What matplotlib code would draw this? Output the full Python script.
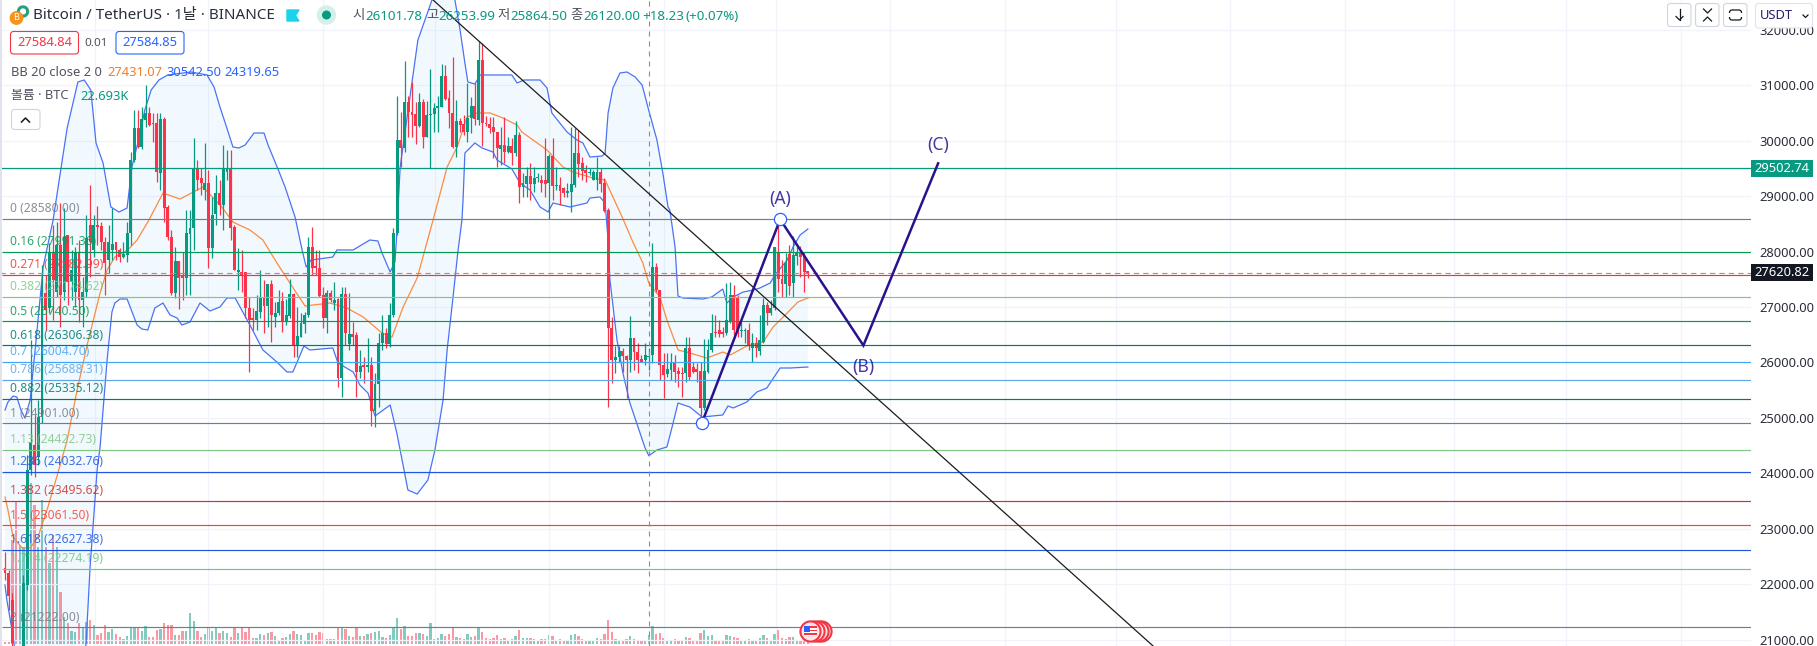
"""
plot.py - BTC/USDT daily chart with Bollinger bands, fib levels and an ABC wave sketch.
"""

import numpy as np
import matplotlib
matplotlib.use("Agg")
import matplotlib.pyplot as plt
from matplotlib.patches import Circle, FancyBboxPatch, Polygon, Rectangle
from matplotlib.ticker import FormatStrFormatter

plt.rcParams["font.family"] = ["Noto Sans", "Noto Sans CJK KR", "DejaVu Sans"]

# ──────────────────────────────────────────────
# Data
# ──────────────────────────────────────────────

opens = [
    22294, 22204, 21717, 20760, 20600, 20635, 21987, 24061, 24512, 24295,
    25017, 27252, 26982, 27973, 27270, 28118, 27270, 28298, 27450, 27270,
    27973, 27126, 27270, 28478, 28028, 28478, 28460, 28172, 27847, 28028,
    28172, 28028, 27901, 27937, 28334, 29650, 30227, 29885, 30371, 30498,
    30317, 30317, 29416, 30389, 28803, 28262, 27252, 27829, 27577, 27523,
    28316, 28424, 29506, 29326, 29109, 29236, 28064, 28677, 29055, 28839,
    29434, 29506, 28442, 27631, 27631, 27631, 26982, 26801, 26765, 26910,
    27162, 27018, 27415, 26819, 26892, 27108, 26729, 26837, 27234, 26297,
    26459, 26693, 26855, 28082, 27739, 27703, 27216, 26801, 27252, 27072,
    27144, 25720, 27234, 26333, 26513, 26495, 25828, 25954, 25918, 25954,
    25125, 25612, 26351, 26531, 26333, 26855, 28334, 30011, 29866, 30696,
    30515, 30479, 30263, 30696, 30065, 30461, 30479, 30588, 30606, 31165,
    30768, 30498, 29885, 30353, 30299, 30155, 30407, 30624, 30371, 31453,
    30317, 30299, 30245, 30155, 29849, 29921, 29794, 29903, 29776, 30101,
    29163, 29217, 29362, 29217, 29326, 29290, 29290, 29236, 29722, 29181,
    29199, 29145, 29055, 29073, 29199, 29776, 29596, 29470, 29416, 29290,
    29290, 29434, 29235, 28749, 26621, 26044, 26098, 26206, 26116, 26044,
    26441, 26188, 26062, 26044, 26101.78, 26134, 27721, 27306, 25954, 25792,
    25864, 25990, 25846, 25810, 25810, 26261, 25918, 25882, 25846, 25179,
    25828, 26224, 26549, 26585, 26549, 26531, 26729, 27216, 27180, 26567,
    26567, 26585, 26261, 26351, 26207, 26369, 27036, 26891, 26982, 27991,
    27505, 27415, 27955, 27432, 27919, 27973, 27919, 27649,
]
highs = [
    22583, 22258, 21843, 20840, 20800, 22168, 24331, 26405, 25053, 25323,
    27757, 27577, 28154, 28478, 28533, 28875, 28785, 28298, 28028, 28082,
    28208, 27541, 28659, 29199, 28659, 28821, 28533, 28262, 28478, 28785,
    28172, 28064, 28172, 28532, 29794, 30552, 30552, 30606, 31002, 30606,
    30498, 30498, 30498, 30425, 28839, 28388, 28082, 27829, 27991, 28749,
    28749, 30047, 29650, 29506, 29957, 29470, 28983, 29380, 29290, 29921,
    29830, 29830, 28478, 28064, 28028, 27631, 27180, 26982, 27216, 27667,
    27487, 27415, 27487, 27090, 27306, 27270, 27144, 27505, 27252, 27000,
    26892, 26910, 28262, 28442, 28028, 28028, 27360, 27306, 27306, 27450,
    27162, 27360, 27360, 27252, 26729, 26549, 26224, 26098, 26441, 26098,
    25810, 26531, 26855, 26621, 27072, 28424, 30804, 30516, 31435, 30804,
    31057, 30696, 30858, 30750, 30714, 31291, 30678, 30804, 31381, 31363,
    30912, 31507, 30732, 30407, 30461, 31039, 30786, 31039, 31796, 31760,
    30443, 30425, 30425, 30155, 30245, 30425, 30065, 30047, 30353, 30155,
    29416, 29524, 29596, 29524, 29416, 29380, 30047, 29758, 30047, 29524,
    29344, 29163, 29235, 30245, 30227, 30191, 29704, 29560, 29506, 29470,
    29704, 29506, 29326, 28785, 26820, 26297, 26297, 26261, 26134, 26837,
    26441, 26351, 26134, 26351, 26253.99, 28154, 27793, 27306, 26171, 26171,
    26171, 26134, 25918, 25918, 26459, 26459, 26008, 25990, 26008, 26423,
    26423, 26874, 26856, 26765, 26639, 27432, 27450, 27396, 27216, 26729,
    26621, 26711, 26531, 26459, 26856, 27162, 27090, 27126, 28082, 28478,
    27847, 27973, 28118, 28280, 28082, 28100, 27991, 27649,
]
lows = [
    22078, 21537, 20816, 20500, 20500, 20545, 21897, 23971, 23935, 24151,
    24908, 26585, 26892, 26765, 27180, 26639, 27126, 27036, 27126, 26999,
    26730, 26639, 27180, 27541, 27901, 28118, 28028, 27216, 27613, 27847,
    27847, 27811, 27883, 27811, 28118, 29614, 29866, 29849, 30245, 30263,
    29975, 29253, 29109, 28532, 28208, 27216, 27162, 26964, 27126, 27216,
    27216, 28028, 29109, 29019, 28929, 27703, 27883, 28478, 28659, 28388,
    29290, 28208, 27667, 27306, 27270, 26801, 25828, 26585, 26585, 26801,
    26531, 26639, 26369, 26639, 26856, 26549, 26675, 26801, 26098, 26098,
    26459, 26531, 26819, 27577, 27577, 27180, 26621, 26531, 27090, 26946,
    25557, 25377, 26315, 26224, 26315, 25377, 25720, 25630, 25828, 24854,
    24836, 25197, 26224, 26261, 26279, 26819, 28298, 29524, 29794, 30065,
    30065, 29939, 30245, 29866, 30065, 29506, 30155, 30155, 30606, 30732,
    30227, 29866, 29704, 30155, 30101, 29975, 30137, 30281, 30281, 29902,
    30263, 30137, 29686, 29524, 29560, 29596, 29776, 29560, 29722, 28875,
    28983, 28983, 28929, 29073, 29253, 29073, 28983, 28586, 28929, 29109,
    28839, 28983, 28983, 28713, 29163, 29344, 29289, 29253, 29380, 29290,
    29109, 29073, 28713, 25197, 25630, 25810, 26008, 25828, 25359, 25828,
    25864, 25810, 26008, 25954, 25864.50, 25990, 27270, 25684, 25359, 25738,
    25684, 25648, 25557, 25377, 25648, 25684, 25810, 25648, 25017, 25143,
    25810, 26188, 26459, 26459, 26459, 26495, 26711, 26495, 26459, 26459,
    26351, 26224, 26008, 26098, 26135, 26351, 26675, 26856, 26946, 27270,
    27180, 27180, 27216, 27180, 27757, 27541, 27270, 27523,
]
closes = [
    22204, 21789, 20942, 20600, 20700, 22023, 24061, 24566, 24151, 25017,
    27396, 26946, 27991, 27487, 28118, 27216, 28262, 27450, 27667, 27973,
    27126, 27270, 28244, 28172, 28478, 28442, 28172, 27793, 28172, 28136,
    28028, 27901, 27955, 28334, 29650, 30227, 29885, 30389, 30498, 30281,
    30299, 29434, 30389, 28785, 28262, 27252, 27829, 27523, 27523, 28334,
    28424, 29506, 29290, 29236, 29236, 28064, 28659, 29055, 28839, 29506,
    29506, 28424, 27667, 27667, 27559, 26982, 26765, 26765, 26928, 27162,
    27018, 27415, 26856, 26892, 27090, 26729, 26856, 27234, 26315, 26477,
    26711, 26855, 28082, 27703, 27703, 27198, 26801, 27252, 27126, 27126,
    25720, 27234, 26531, 26513, 26459, 25828, 25936, 25918, 25954, 25125,
    25612, 26351, 26531, 26333, 26855, 28334, 30011, 29866, 30696, 30515,
    30461, 30263, 30696, 30065, 30461, 30479, 30588, 30624, 31165, 30750,
    30498, 29885, 30353, 30281, 30155, 30407, 30624, 30389, 31453, 30317,
    30299, 30227, 30155, 29866, 29921, 29794, 29903, 29776, 30101, 29163,
    29236, 29362, 29217, 29326, 29344, 29236, 29217, 29722, 29181, 29199,
    29091, 29055, 29091, 29217, 29776, 29578, 29452, 29416, 29434, 29434,
    29434, 29217, 28731, 26621, 26044, 26098, 26206, 26116, 26044, 26441,
    26188, 26044, 26008, 26134, 26120.00, 27721, 27306, 25954, 25774, 25882,
    25990, 25828, 25792, 25792, 26261, 25738, 25828, 25828, 25179, 25846,
    26224, 26531, 26531, 26513, 26513, 26765, 27216, 26585, 26585, 26585,
    26585, 26297, 26351, 26261, 26405, 27036, 26891, 26982, 28082, 27505,
    27415, 27793, 27378, 27937, 27973, 27901, 27631, 27620.82,
]
# thousands of BTC per bar
volumes = [
    4, 4, 260, 356, 247, 243, 243, 402, 347, 243,
    360, 243, 202, 272, 243, 131, 68, 53, 33, 31,
    53, 43, 56, 60, 47, 22, 27, 47, 31, 37,
    25, 18, 12, 20, 41, 41, 39, 33, 45, 18,
    18, 35, 37, 53, 47, 47, 23, 23, 33, 33,
    77, 57, 33, 18, 25, 42, 33, 42, 28, 33,
    28, 18, 42, 28, 42, 31, 42, 15, 15, 25,
    22, 28, 31, 21, 10, 15, 18, 25, 32, 25,
    22, 10, 28, 28, 22, 31, 28, 12, 13, 12,
    43, 43, 37, 20, 18, 42, 20, 20, 25, 28,
    31, 33, 18, 15, 23, 39, 65, 37, 45, 20,
    20, 28, 27, 25, 20, 52, 12, 15, 25, 20,
    25, 42, 18, 15, 12, 25, 18, 20, 39, 30,
    15, 12, 16, 22, 12, 15, 10, 13, 20, 36,
    15, 14, 14, 12, 8, 12, 13, 22, 20, 10,
    12, 10, 8, 22, 25, 20, 13, 10, 8, 9,
    14, 12, 25, 60, 30, 12, 10, 9, 12, 20,
    13, 11, 8, 9, 22.693, 45, 25, 28, 15, 10,
    10, 12, 9, 10, 17, 16, 10, 10, 28, 35,
    20, 22, 10, 8, 7, 22, 20, 18, 14, 8,
    8, 12, 10, 9, 15, 22, 14, 8, 25, 35,
    14, 13, 18, 18, 8, 9, 12, 15,
]

# Bollinger lines, read at the bars where they bend
upper_idx = [
    0, 0.8, 2.2, 3.2, 4.3, 5.4, 6.8, 8.4, 10.3, 13, 16.8, 19.7, 21.4, 23.2, 24.6, 26.5,
    28.6, 30.8, 33, 34.3, 35.9, 37.8, 39.5, 41.6, 44, 50.3, 54.6, 56.5, 58.1, 59.7, 61.6,
    63.2, 64.9, 67.3, 70, 71.1, 74.1, 75.7, 78.4, 80.3, 81.4, 82.7, 88.6, 89.7, 94.1,
    98.6, 100.8, 101.9, 104.1, 105.4, 105.9, 106.8, 111.6, 115.4, 118.4, 121.6, 123,
    124.3, 125.1, 127, 128.4, 133, 137, 138.4, 140.3, 144.6, 146.5, 147.8, 151.9, 154.6,
    156.2, 158.1, 161.4, 162.2, 163, 164.3, 166.2, 168.1, 170.3, 172.2, 174, 176.2,
    177.8, 179.2, 179.7, 181.1, 181.9, 183.2, 188.6, 191, 194, 195.1, 196.8, 199.5,
    202.2, 204, 206.8, 208.1, 211.4, 213, 214.9, 217,
]
upper_val = [
    25143, 25287, 25395, 25377, 25143, 24998, 25323, 26405, 27721, 28568, 30227, 31057,
    31093, 30912, 29957, 29596, 28803, 28713, 28785, 29524, 29957, 30552, 30912, 31093,
    31183, 31237, 31183, 30966, 30606, 30281, 29885, 29867, 29921, 30137, 30137, 29921,
    29434, 29163, 28622, 28028, 27721, 27847, 27901, 28028, 28028, 28208, 28190, 27973,
    27631, 27811, 28334, 29524, 31814, 32535, 32986, 32535, 31994, 31399, 31057, 31021,
    31183, 31183, 31183, 31039, 31093, 31093, 30948, 30498, 30155, 30011, 29957, 29704,
    29722, 29776, 30498, 30948, 31219, 31237, 31147, 31002, 30542.50, 30011, 29416,
    28803, 28749, 28082, 27198, 27162, 27144, 27180, 27324, 27072, 27180, 27270, 27306,
    27342, 27432, 27577, 27847, 28082, 28298, 28406,
]
basis_idx = [
    0, 0.8, 2.2, 4.6, 6.8, 8.9, 11.6, 14.3, 16.8, 19.5, 22.2, 25.7, 27.6, 29.7, 33.2,
    35.7, 38.9, 42.7, 47.3, 53.5, 58.6, 61.6, 66.2, 69.7, 73.5, 77, 81.1, 87.8, 92.4,
    96.8, 101.9, 104.6, 107.6, 111.4, 115.7, 119.5, 122.2, 124.9, 127.6, 131.1, 134.6,
    138.4, 139.7, 142.7, 146.5, 150.8, 153.5, 158.9, 162.2, 166.8, 169.7, 172.4, 174,
    177, 178.9, 181.9, 185.1, 189.7, 194, 196, 200.5, 204.9, 207.6, 211.4, 214.3, 217,
]
basis_val = [
    23574, 23340, 22853, 22655, 22655, 22853, 23394, 24007, 24602, 25503, 26315, 27252,
    27667, 27901, 28028, 28208, 28568, 29055, 28947, 29163, 28803, 28532, 28388, 28208,
    27793, 27432, 27018, 27072, 26982, 26820, 26531, 26459, 26999, 27523, 28568, 29524,
    29885, 30425, 30498, 30498, 30407, 30281, 30155, 30011, 29830, 29524, 29434, 29326,
    29289, 28622, 28172, 27793, 27431.07, 27180, 26765, 26225, 26171, 26080, 26188,
    26134, 26297, 26369, 26639, 26892, 27090, 27162,
]
lower_idx = [
    0, 0.5, 1.9, 2.7, 6.8, 14.9, 21.4, 21.9, 23, 24.9, 25.7, 27.6, 28.9, 29.7, 31.1, 33,
    35.7, 37, 38.6, 40.5, 42.7, 44.6, 46.5, 47.8, 50, 52.7, 55.4, 58.1, 60, 62.2, 66.2,
    69.7, 73.5, 76.2, 77.8, 80.8, 82.4, 88.6, 90, 94.1, 95.9, 98.1, 100, 104.1, 105.9,
    108.9, 111.4, 114.3, 116.2, 118.4, 119.5, 121.1, 122.4, 123.5, 123.8, 124.3, 125.1,
    127, 128.9, 131.9, 133, 137, 139.2, 141.9, 144.6, 146.8, 148.1, 152.7, 157.3, 158.1,
    160.8, 162.2, 163, 163.5, 165.4, 167, 168.9, 173, 174, 176.2, 178.9, 180.3, 181.9,
    185.1, 188.4, 194, 195.4, 196.8, 200.5, 203.2, 205.9, 209.5, 212.2, 217,
]
lower_val = [
    21987, 21717, 21176, 20816, 19553, 19193, 20635, 20924, 22312, 24061, 24476, 26044,
    26910, 27072, 27144, 27144, 26675, 26603, 26585, 26982, 27072, 26856, 26802, 26675,
    26729, 27072, 26928, 27000, 27162, 27162, 26675, 26225, 26008, 25828, 25828, 26297,
    26225, 26261, 25990, 25828, 25594, 25449, 25035, 25233, 24728, 23700, 23628, 23881,
    24422, 25323, 26225, 27180, 27991, 28568, 28929, 29776, 29830, 29957, 29867, 29794,
    29650, 29488, 29235, 29109, 28803, 28713, 28875, 28803, 28875, 28965, 28983, 28875,
    28208, 27487, 26405, 25810, 25269, 24458, 24319.65, 24422, 24476, 24836, 25269,
    25197, 25017, 25053, 25215, 25179, 25287, 25467, 25539, 25900, 25900, 25918,
]

fib_levels = ["0", "0.16", "0.271", "0.382", "0.5", "0.618", "0.7", "0.786", "0.882", "1",
              "1.13", "1.236", "1.382", "1.5", "1.618", "1.714", "2"]
fib_prices = [28580.00, 27991.36, 27582.99, 27174.62, 26740.50, 26306.38, 26004.70, 25688.31,
              25335.12, 24901.00, 24422.73, 24032.76, 23495.62, 23061.50, 22627.38, 22274.19,
              21222.00]
fib_colors = ["#787b86", "#089950", "#f7352f", "#81c784", "#089950", "#00796b", "#42a5f5",
              "#5ea6e6", "#00796b", "#787b86", "#81c784", "#2157e0", "#d32f2f", "#f4442e",
              "#2157e0", "#66cc7f", "#787b86"]

trend_x = [115.7, 310.3]
trend_y = [32535, 20888]

wave_x = [188.3, 209.5, 232, 252.2]
wave_y = [24901.00, 28580.00, 26306.38, 29590]
wave_labels = ["(A)", "(B)", "(C)"]
wave_label_y = [28950, 25910, 29920]

price_ticks = list(range(21000, 33000, 1000))
month_bars = [24.3, 54.9, 85.9, 116.2, 147, 178.1, 208.4, 239.2, 270.3, 300.3, 331.1, 362.2,
              391.6, 421.9, 453]
last_price = 27620.82
alert_price = 29502.74
cursor_bar = 174
event_bars = [220.6, 219.6, 218.6, 217.6]
event_price = 21158

# ──────────────────────────────────────────────
# Colours and layout
# ──────────────────────────────────────────────

UP = "#089981"
DOWN = "#f9334a"
BLUE = "#4a72f5"
ORANGE = "#ff8a3d"
WAVE = "#2b128c"
GRID = "#f0f3fa"
TEXT = "#131722"
GREY_TEXT = "#50535e"

W, H = 1817, 646
PANE_W = 1751

fig = plt.figure(figsize=(W / 100, H / 100), dpi=100, facecolor="white")
ax = fig.add_axes([0, 0, PANE_W / W, 1])
vol = ax.twinx()
ax.set_zorder(2)
vol.set_zorder(1)
ax.patch.set_visible(False)

# ──────────────────────────────────────────────
# Price pane
# ──────────────────────────────────────────────

idx = np.arange(len(opens))
o, h, l, c = map(np.array, (opens, highs, lows, closes))
rising = c >= o
colors = np.where(rising, UP, DOWN)

ax.set_xlim(-1.35, 471.9)
ax.set_ylim(20888, 32535)
ax.set_xticks(month_bars)
ax.set_yticks(price_ticks)
ax.yaxis.set_major_formatter(FormatStrFormatter("%.2f"))
ax.yaxis.tick_right()
ax.tick_params(axis="x", length=0, labelbottom=False)
ax.tick_params(axis="y", length=0, pad=5.8, labelsize=9.3, labelcolor="#2a2e39")
ax.grid(True, color=GRID, lw=0.9)
ax.set_axisbelow(True)
for spine in ax.spines.values():
    spine.set_visible(False)

# Bollinger band
ax.fill(np.r_[upper_idx, lower_idx[::-1]], np.r_[upper_val, lower_val[::-1]],
        color="#2196f3", alpha=0.055, lw=0, zorder=1)
ax.plot(upper_idx, upper_val, color=BLUE, lw=0.9, zorder=2)
ax.plot(lower_idx, lower_val, color=BLUE, lw=0.9, zorder=2)
ax.plot(basis_idx, basis_val, color=ORANGE, lw=0.9, zorder=2)

# Candles
ax.vlines(idx, l, h, colors=colors, lw=0.9, zorder=3)
ax.bar(idx, np.maximum(np.abs(c - o), 20), bottom=np.minimum(o, c), width=0.78,
       color=colors, lw=0, zorder=4)

# Fib levels and their labels
for name, price, color in zip(fib_levels, fib_prices, fib_colors):
    ax.hlines(price, -0.8, 471.9, colors=color, lw=0.85, zorder=5)
    ax.annotate(f"{name} ({price:.2f})", (1.35, price), xytext=(0, 2.8),
                textcoords="offset points", color=color, alpha=0.85, fontsize=8.7,
                va="bottom", ha="left", zorder=8)

# Price lines
ax.axhline(alert_price, color=UP, lw=0.9, zorder=5)
ax.axhline(last_price, color="#9598a1", lw=0.85, ls=(0, (4.5, 3.5)), zorder=5)
ax.axvline(cursor_bar, color="#8a8d96", lw=0.8, ls=(0, (4.5, 4.5)), zorder=5)

# Trend line and ABC wave
ax.plot(trend_x, trend_y, color="#1c1c1c", lw=0.9, zorder=6)
ax.plot(wave_x, wave_y, color=WAVE, lw=1.8, zorder=6, solid_joinstyle="miter")
ax.plot(wave_x[:2], wave_y[:2], ls="none", marker="o", ms=8.8, mfc="white", mec="#2962ff",
        mew=0.9, zorder=7)
for x, y, text in zip(wave_x[1:], wave_label_y, wave_labels):
    ax.text(x, y, text, color=WAVE, alpha=0.85, fontsize=12.6, ha="center", va="center", zorder=8)

# Economic event bubbles on the last bars
ax.plot(event_bars, [event_price] * 4, ls="none", marker="o", ms=14.5, mfc="#fde4e6",
        mec="#f23645", mew=1.5, zorder=7)

# ──────────────────────────────────────────────
# Volume pane
# ──────────────────────────────────────────────

vol.set_ylim(-5, 1610)
vol.bar(idx, volumes, width=0.62, color=colors, alpha=0.5, lw=0)
vol.set_yticks([])
for spine in vol.spines.values():
    spine.set_visible(False)

# ──────────────────────────────────────────────
# Toolbars and legend, positioned in pixels
# ──────────────────────────────────────────────

ui = fig.add_axes([0, 0, 1, 1], zorder=5)
ui.set_xlim(0, W)
ui.set_ylim(H, 0)
ui.axis("off")


def rbox(x0, y0, x1, y1, edge, face="white", lw=0.8, rad=3):
    ui.add_patch(FancyBboxPatch((x0 + rad, y0 + rad), x1 - x0 - 2 * rad, y1 - y0 - 2 * rad,
                                boxstyle=f"round,pad={rad}", fc=face, ec=edge, lw=lw))


def label(x, y, text, color=TEXT, size=9.6, **kw):
    kw.setdefault("va", "center")
    ui.text(x, y, text, color=color, fontsize=size, **kw)


ui.add_patch(Rectangle((0, 0), 1.5, H, color="#e0e3eb", lw=0))

# Symbol row
ui.add_patch(Circle((23, 11.5), 5.5, color="#26a17b"))
ui.add_patch(Circle((23, 11.5), 2.4, color="white"))
ui.add_patch(Circle((16.5, 18), 6.2, color="#f7931a"))
label(16.5, 18, "B", color="white", size=6.5, ha="center")
label(33, 15.5, "Bitcoin / TetherUS · 1날 · BINANCE", size=10.95, color="#2a2e39")
ui.add_patch(Polygon([(287, 10), (299, 10), (295.5, 15.5), (299, 21), (287, 21)], color="#19d3ea"))
ui.add_patch(Circle((326.5, 15), 9, color="#d5f0ea"))
ui.add_patch(Circle((326.5, 15), 3.8, color=UP))
for x, tag in zip([352, 426, 497, 570], ["시", "고", "저", "종"]):
    label(x, 15.5, tag, color=GREY_TEXT, size=9.6)
for x, val in zip([365.5, 438, 510.5, 583], ["26101.78", "26253.99", "25864.50", "26120.00"]):
    label(x, 16, val, color=UP, size=9.6)
label(642, 16, "+18.23", color=UP, size=9.6)
label(685, 16, "(+0.07%)", color=UP, size=9.6)

# Order buttons
rbox(10.5, 31.5, 78.5, 54, "#f23645")
label(44.5, 43, "27584.84", color="#f23645", size=9.3, ha="center")
label(96.5, 43, "0.01", color=GREY_TEXT, size=8.4, ha="center")
rbox(116, 31.5, 184, 54, "#2962ff")
label(150, 43, "27584.85", color="#2962ff", size=9.3, ha="center")

# Indicator legend
label(11, 72, "BB 20 close 2 0", color=GREY_TEXT, size=9.3)
label(107, 72, "27431.07", color="#f57c28", size=9.3)
label(166, 72, "30542.50", color="#2962ff", size=9.3)
label(224, 72, "24319.65", color="#2962ff", size=9.3)
label(11, 96, "볼륨 · BTC", color=GREY_TEXT, size=9.3)
label(80, 96, "22.693K", color=UP, size=9.3)
rbox(11.5, 109.5, 40, 129.5, "#d1d4dc")
ui.plot([21.5, 25.5, 29.5], [122, 118, 122], color=TEXT, lw=1.1)

# Axis tags
for price, face in [(alert_price, UP), (last_price, "#131722")]:
    y_px = H * (32535 - price) / (32535 - 20888)
    ui.add_patch(Rectangle((PANE_W, y_px - 8.5), 62, 17, color=face, lw=0))
    label(1782, y_px, f"{price:.2f}", color="white", size=9.3, ha="center", weight="bold")

# Scale buttons
for x0 in [1667.5, 1695.5, 1723.5]:
    rbox(x0, 3.5, x0 + 23.5, 26.5, "#d1d4dc")
ui.plot([1679.5, 1679.5], [9, 20], color=TEXT, lw=0.9)
ui.plot([1676, 1679.5, 1683], [16.5, 20, 16.5], color=TEXT, lw=0.9)
ui.plot([1703.5, 1707.5, 1711.5], [9, 13, 9], color=TEXT, lw=0.9)
ui.plot([1703.5, 1707.5, 1711.5], [21, 17, 21], color=TEXT, lw=0.9)
rbox(1729.5, 10, 1741.5, 20, TEXT, rad=2.5, lw=0.9)
ui.add_patch(Rectangle((1728, 13), 15, 4, color="white", lw=0))
rbox(1755.5, 3.5, 1812.5, 28, "#e0e3eb")
label(1759.5, 15.5, "USDT", size=9.3, color="#2a1a6e")
ui.plot([1803, 1805.5, 1808], [15, 17.5, 15], color=TEXT, lw=0.9)

# US flag on the front event bubble
fx, fy = 810, 631
ui.add_patch(Rectangle((fx - 6.5, fy - 5), 13, 10, color="white", lw=0))
for k in range(3):
    ui.add_patch(Rectangle((fx - 6.5, fy - 5 + k * 3.6), 13, 1.8, color="#f23645", lw=0))
ui.add_patch(Rectangle((fx - 6.5, fy - 5), 6.5, 5.5, color="#2962ff", lw=0))

fig.savefig("out.png", dpi=100)
